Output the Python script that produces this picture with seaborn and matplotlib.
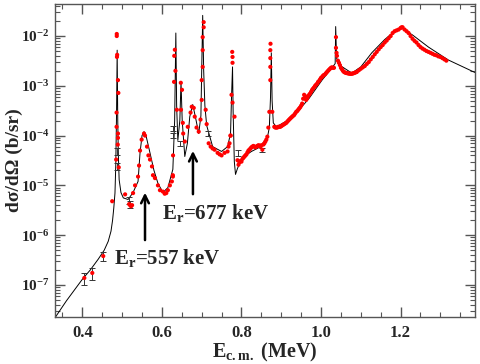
import matplotlib
matplotlib.use('Agg')
import matplotlib.pyplot as plt
import seaborn as sns
import numpy as np
import pandas as pd
from matplotlib.ticker import LogLocator, MultipleLocator, FixedLocator, NullFormatter

# R-matrix fit curve (E in MeV, cross section in b/sr)
fit_e = [0.333, 0.36, 0.40, 0.42, 0.44, 0.455, 0.465, 0.472, 0.476, 0.479, 0.482, 0.484, 0.486,
         0.4875, 0.489, 0.4905, 0.4925, 0.497, 0.503, 0.515, 0.5275, 0.54, 0.545, 0.55, 0.555,
         0.56, 0.57, 0.58, 0.59, 0.6025, 0.615, 0.6275, 0.632, 0.635, 0.637, 0.640, 0.645, 0.648,
         0.651, 0.6575, 0.664, 0.670, 0.6775, 0.685, 0.6925, 0.698, 0.700, 0.7025, 0.705, 0.708,
         0.7125, 0.7275, 0.75, 0.765, 0.7725, 0.775, 0.7775, 0.779, 0.782, 0.785, 0.79, 0.8025,
         0.825, 0.845, 0.865, 0.87, 0.873, 0.875, 0.877, 0.88, 0.8875, 0.92, 0.945, 0.97,
         1.0025, 1.0275, 1.0355, 1.0368, 1.039, 1.05, 1.0775, 1.10, 1.1275, 1.16, 1.1875,
         1.2025, 1.23, 1.27, 1.32, 1.387]
fit_y = [2.3e-8, 4.8e-8, 1.3e-7, 2.0e-7, 3.3e-7, 5e-7, 7.5e-7, 1.2e-6, 2.0e-6, 3.5e-6, 7e-6, 2.5e-5,
         3e-4, 5.2e-3, 2e-4, 4e-5, 1.3e-5, 7.2e-6, 5.6e-6, 5.2e-6, 7.2e-6, 1.2e-5, 4.5e-5, 1e-4,
         1.2e-4, 1.0e-4, 4.5e-5, 2e-5, 1.1e-5, 7.2e-6, 9e-6, 2.1e-5, 2e-4, 1.15e-2, 4e-4, 8e-5,
         2e-4, 1.2e-3, 2e-4, 3.8e-5, 7e-5, 2.4e-4, 4.2e-4, 2.2e-4, 1.1e-4, 2.5e-4, 2e-3, 2.6e-2,
         2e-3, 4e-4, 1.6e-4, 6e-5, 4.8e-5, 6e-5, 1.1e-4, 6e-4, 2.4e-3, 3e-4, 3e-5, 1.66e-5,
         2.2e-5, 3.6e-5, 4.8e-5, 5.8e-5, 9e-5, 1.45e-4, 6e-4, 4.6e-3, 5e-4, 1.8e-4, 1.5e-4,
         2.1e-4, 3.3e-4, 5.6e-4, 1.3e-3, 2.3e-3, 2.8e-3, 1.55e-2, 3.6e-3, 2.5e-3, 1.8e-3,
         2.4e-3, 4.6e-3, 8.5e-3, 1.3e-2, 1.45e-2, 1.05e-2, 6e-3, 3.3e-3, 1.85e-3]

# measured points, low energy part (up to the 0.88 MeV resonance)
low_e = [0.405, 0.425, 0.4525, 0.475,
         0.4865, 0.4865, 0.4875, 0.487, 0.4895, 0.4905, 0.486, 0.486, 0.4895, 0.4895, 0.489,
         0.485, 0.4915,
         0.5075, 0.5175, 0.52, 0.5225, 0.525, 0.5275, 0.5325, 0.54, 0.5425, 0.545, 0.549,
         0.555, 0.5575, 0.5625, 0.566, 0.57, 0.575, 0.5775, 0.5825, 0.59, 0.595, 0.6025,
         0.607, 0.611, 0.615, 0.62, 0.625, 0.6275,
         0.6325, 0.631, 0.634, 0.6305, 0.6375, 0.628, 0.6275,
         0.6475, 0.6505, 0.648, 0.6525, 0.6535, 0.6575,
         0.665, 0.672, 0.675, 0.68, 0.6825, 0.687, 0.6925, 0.697,
         0.70, 0.70, 0.7025, 0.7025, 0.7025, 0.705, 0.705, 0.71, 0.7125, 0.7175,
         0.7225, 0.7275, 0.7325, 0.74, 0.745, 0.75, 0.7575, 0.765, 0.77, 0.7725,
         0.7767, 0.7775, 0.7775, 0.775, 0.7775, 0.7825, 0.7725, 0.7675,
         0.79, 0.7925, 0.795, 0.7975, 0.80, 0.8025, 0.805, 0.8075, 0.81, 0.8125, 0.815, 0.8175,
         0.82, 0.8225, 0.825, 0.8275, 0.83, 0.8325, 0.835, 0.8375, 0.84, 0.8425, 0.845, 0.8475,
         0.85, 0.8525, 0.855, 0.8575, 0.86, 0.8625, 0.865,
         0.8675, 0.87, 0.8725, 0.8725, 0.8725, 0.8725, 0.873, 0.8775]
low_y = [1.38e-7, 1.74e-7, 3.8e-7, 4.8e-6,
         1.1e-2, 1.0e-2, 4.2e-3, 3.8e-3, 1.3e-3, 7.2e-4, 2.9e-4, 1.5e-4, 1.1e-4, 9e-5, 6.6e-5,
         3.3e-5, 2.3e-5,
         6.6e-6, 4.2e-6, 4e-6, 3.8e-6, 4e-6, 7e-6, 1e-5, 1.5e-5, 2.5e-5, 5e-5, 8.3e-5,
         1.1e-4, 1.0e-4, 6e-5, 4e-5, 3.3e-5, 2.4e-5, 1.6e-5, 1.4e-5, 1.0e-5, 8e-6, 7.5e-6,
         6.8e-6, 7e-6, 8e-6, 1e-5, 1.2e-5, 1.6e-5,
         5.3e-3, 4e-3, 2e-3, 1.2e-3, 3.3e-4, 4e-5, 1.5e-5,
         1.15e-3, 8.3e-4, 3.3e-4, 1.8e-4, 1.1e-4, 7.6e-5,
         1.5e-4, 2.9e-4, 3.8e-4, 3.6e-4, 2.4e-4, 1.45e-4, 1.2e-4, 2.1e-4,
         5.2e-4, 1.3e-3, 2.4e-3, 5.2e-3, 9.5e-3, 1.5e-2, 1.9e-2, 3.3e-4, 1.7e-4, 7e-5,
         6e-5, 5.5e-5, 5.2e-5, 4.5e-5, 4.2e-5, 4e-5, 4.5e-5, 4.8e-5, 7e-5, 1e-4,
         4.8e-3, 3.8e-3, 2.9e-3, 6.6e-4, 4.6e-4, 2.4e-4, 1e-4, 6e-5,
         3.2e-5, 2.6e-5, 2.9e-5, 3.1e-5, 3e-5, 3.4e-5, 3.6e-5, 3.8e-5, 4e-5, 4.2e-5, 4.6e-5, 5e-5,
         5.2e-5, 5.5e-5, 5.8e-5, 6e-5, 6.2e-5, 6e-5, 5.8e-5, 6e-5, 6.2e-5, 6.4e-5, 6.3e-5, 6e-5,
         6.4e-5, 5.2e-5, 6.6e-5, 7e-5, 7.6e-5, 8.3e-5, 9.5e-5,
         1.45e-4, 3e-4, 1.3e-3, 2.4e-3, 3.6e-3, 5.2e-3, 7e-3, 3e-4]

# measured points, high energy part (dense band above 0.88 MeV)
high_e = [0.8825, 0.885, 0.8875, 0.89, 0.8925, 0.895, 0.8975, 0.90, 0.9025, 0.905, 0.9075,
          0.91, 0.9125, 0.915, 0.9175, 0.92, 0.9225, 0.925, 0.9275, 0.93, 0.9325, 0.935,
          0.9375, 0.94, 0.9425, 0.945, 0.9475, 0.95, 0.9525, 0.955, 0.9575, 0.96, 0.9625,
          0.965, 0.9675, 0.97, 0.9725, 0.975, 0.9775, 0.98, 0.9825, 0.985, 0.9875, 0.99,
          0.9925, 0.995, 0.9975, 1.0, 1.0025, 1.005, 1.0075, 1.01, 1.0125, 1.015, 1.0175,
          1.02, 1.0225, 1.025, 1.0275, 1.03, 1.0325,
          1.0375, 1.0375, 1.039, 1.04, 1.0425, 1.045, 1.0475, 1.05, 1.0525, 1.055, 1.0575,
          1.06, 1.0625, 1.065, 1.0675, 1.07, 1.0725, 1.075, 1.0775, 1.08, 1.0825, 1.085,
          1.0875, 1.09, 1.095, 1.10, 1.105, 1.11, 1.115, 1.12, 1.125, 1.13, 1.135, 1.14,
          1.145, 1.15, 1.155, 1.16, 1.165, 1.17, 1.175, 1.18, 1.185, 1.19, 1.195, 1.20,
          1.2025, 1.205, 1.21, 1.215, 1.22, 1.225, 1.23, 1.235, 1.24, 1.245, 1.25, 1.255,
          1.26, 1.265, 1.27, 1.275, 1.28, 1.285, 1.29, 1.295, 1.30, 1.305, 1.31, 1.315]
high_y = [1.5e-4, 1.45e-4, 1.45e-4, 1.45e-4, 1.5e-4, 1.5e-4, 1.5e-4, 1.55e-4, 1.6e-4, 1.65e-4,
          1.7e-4, 1.75e-4, 1.8e-4, 1.9e-4, 2e-4, 2.1e-4, 2.2e-4, 2.3e-4, 2.4e-4, 2.5e-4,
          2.6e-4, 2.8e-4, 3e-4, 3.1e-4, 3.3e-4, 3.5e-4, 3.7e-4, 4e-4, 4.4e-4, 5.5e-4, 6.6e-4,
          6.2e-4, 5.2e-4, 5.6e-4, 6.2e-4, 6.6e-4, 7e-4, 7.6e-4, 8.3e-4, 8.8e-4, 9.3e-4, 1e-3,
          1.05e-3, 1.1e-3, 1.2e-3, 1.25e-3, 1.35e-3, 1.45e-3, 1.5e-3, 1.6e-3, 1.65e-3, 1.7e-3,
          1.8e-3, 1.9e-3, 2e-3, 2.1e-3, 2.2e-3, 2.3e-3, 2.35e-3, 2.3e-3, 2.3e-3,
          9.5e-3, 5.8e-3, 4.6e-3, 4e-3, 3.2e-3, 2.9e-3, 2.6e-3, 2.3e-3, 2.15e-3, 2e-3, 1.9e-3,
          1.85e-3, 1.82e-3, 1.8e-3, 1.78e-3, 1.76e-3, 1.75e-3, 1.74e-3, 1.75e-3, 1.77e-3,
          1.8e-3, 1.83e-3, 1.87e-3, 1.9e-3, 2.05e-3, 2.2e-3, 2.35e-3, 2.5e-3, 2.75e-3, 3e-3,
          3.4e-3, 3.8e-3, 4.3e-3, 4.8e-3, 5.4e-3, 6e-3, 6.6e-3, 7.4e-3, 8.1e-3, 9e-3, 1e-2,
          1.15e-2, 1.25e-2, 1.3e-2, 1.35e-2, 1.45e-2, 1.5e-2, 1.5e-2, 1.35e-2, 1.25e-2,
          1.15e-2, 1e-2, 8.8e-3, 8e-3, 7.4e-3, 6.6e-3, 6e-3, 5.6e-3, 5.3e-3, 5e-3, 4.8e-3,
          4.6e-3, 4.4e-3, 4.2e-3, 4.1e-3, 3.9e-3, 3.8e-3, 3.6e-3, 3.4e-3, 3.2e-3]

# points drawn with error bars (relative error)
err_e = [0.405, 0.425, 0.4525, 0.4865, 0.4865, 0.5175, 0.52, 0.6285, 0.6285, 0.6455,
         0.715, 0.79, 0.8525]
err_y = [1.38e-7, 1.74e-7, 3.8e-7, 4.8e-5, 2.4e-5, 5e-6, 4.2e-6, 1.4e-4, 1.0e-4, 7e-5,
         1.1e-4, 4.5e-5, 5.2e-5]
err_rel = [0.28, 0.28, 0.22, 0.15, 0.15, 0.15, 0.15, 0.12, 0.12, 0.12, 0.1, 0.12, 0.1]

sns.set_theme(style='ticks')
plt.rcParams['font.family'] = ['Liberation Serif', 'DejaVu Serif']
plt.rcParams['font.weight'] = 'bold'
plt.rcParams['axes.unicode_minus'] = False
plt.rcParams['mathtext.fontset'] = 'custom'
plt.rcParams['mathtext.rm'] = 'Liberation Serif:bold'
plt.rcParams['mathtext.bf'] = 'Liberation Serif:bold'
plt.rcParams['mathtext.it'] = 'Liberation Serif:bold:italic'

fig = plt.figure(figsize=(4.81, 3.64), dpi=100)
ax = fig.add_axes([55.3 / 481, 47.3 / 364, 419.7 / 481, 312.7 / 364])

fit_df = pd.DataFrame({'E': fit_e, 'xs': fit_y})
data_df = pd.DataFrame({'E': low_e + high_e, 'xs': low_y + high_y})

sns.lineplot(data=fit_df, x='E', y='xs', color='black', lw=0.7, estimator=None, ax=ax, zorder=2)
err_y_arr = np.array(err_y)
ax.errorbar(err_e, err_y, yerr=err_y_arr * np.array(err_rel), fmt='none', ecolor='#333333',
            elinewidth=0.7, capsize=2, capthick=0.7, zorder=3)
sns.scatterplot(data=data_df, x='E', y='xs', color='red', s=9, edgecolor='none', ax=ax, zorder=4)

ax.set_yscale('log')
ax.set_xlim(0.332, 1.387)
ax.set_ylim(2.3e-8, 4.4e-2)

ax.xaxis.set_major_locator(MultipleLocator(0.2))
ax.xaxis.set_minor_locator(MultipleLocator(0.05))
ax.xaxis.set_major_formatter(matplotlib.ticker.FormatStrFormatter('%.1f'))
ax.yaxis.set_major_locator(FixedLocator([1e-7, 1e-6, 1e-5, 1e-4, 1e-3, 1e-2]))
ax.yaxis.set_minor_locator(LogLocator(base=10, subs=np.arange(2, 10), numticks=20))
ax.yaxis.set_minor_formatter(NullFormatter())
ax.set_yticklabels(['$10^{-7}$', '$10^{-6}$', '$10^{-5}$', '$10^{-4}$', '$10^{-3}$', '$10^{-2}$'])

ax.tick_params(which='both', direction='in', top=True, right=True, color='#555555')
ax.tick_params(axis='x', pad=6, labelsize=12)
ax.tick_params(axis='y', pad=4, labelsize=11)
ax.tick_params(which='major', length=7, width=1)
ax.tick_params(which='minor', length=3.5, width=0.8)
for lab in ax.get_xticklabels() + ax.get_yticklabels():
    lab.set_fontweight('bold')
for sp in ax.spines.values():
    sp.set_linewidth(1.0)
    sp.set_color('#555555')

ax.set_xlabel('E$_{\\rm c.m.}$ (MeV)', fontsize=14.5, fontweight='bold')
ax.set_ylabel('d\u03c3/d\u03a9 (b/sr)', fontsize=14, fontweight='bold')
ax.xaxis.set_label_coords(0.5, -0.077)
ax.yaxis.set_label_coords(-0.078, 0.5)

ax.annotate('', xy=(0.5575, 8.1e-6), xytext=(0.5575, 7e-7),
            arrowprops=dict(arrowstyle='->', color='black', lw=1.8, mutation_scale=14))
ax.text(0.48, 3.5e-7, 'E$_{\\rm r}$=557 keV', fontsize=15, fontweight='bold', ha='left', va='center')
ax.annotate('', xy=(0.678, 5.6e-5), xytext=(0.678, 5.85e-6),
            arrowprops=dict(arrowstyle='->', color='black', lw=1.8, mutation_scale=14))
ax.text(0.60, 2.8e-6, 'E$_{\\rm r}$=677 keV', fontsize=15, fontweight='bold', ha='left', va='center')

fig.savefig('out.png', dpi=100)
